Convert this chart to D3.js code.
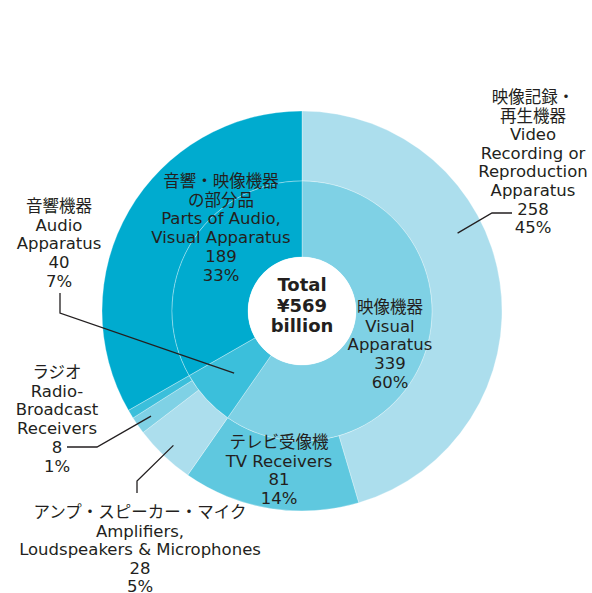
<!DOCTYPE html>
<html><head><meta charset="utf-8">
<script src="https://cdn.jsdelivr.net/npm/d3@7"></script>
<style>
body{margin:0;background:#fff;}
svg text{font-family:"DejaVu Sans","Noto Sans CJK JP",sans-serif;fill:#231f20;}
</style></head>
<body><svg id="c" width="592" height="593"></svg>
<script>
// Inner ring (major categories), billions of yen
const innerNames = ["映像機器","音響機器","音響・映像機器の部分品"];
const innerValues = [339, 40, 189];
const innerColors = ["#7fd1e5", "#3bbfdb", "#00abcf"];
// Outer ring (sub categories)
const outerNames = ["映像記録・再生機器","テレビ受像機","アンプ・スピーカー・マイク","ラジオ","その他音響機器","音響・映像機器の部分品"];
const outerValues = [258, 81, 28, 8, 4, 189];
const outerColors = ["#acdeed", "#5fc8df", "#acdeed", "#7fd1e5", "#3bbfdb", "#00abcf"];
const totalLines = ["Total", "¥569", "billion"];

const svg = d3.select("#c");
const cx = 302, cy = 311, r0 = 54, r1 = 130, r2 = 200;
const g = svg.append("g").attr("transform", `translate(${cx},${cy})`);
const pie = d3.pie().sort(null).value(d => d);
const innerArcs = pie(innerValues);
const outerArcs = pie(outerValues);
const arcIn = d3.arc().innerRadius(r0).outerRadius(r1);
const arcOut = d3.arc().innerRadius(r1).outerRadius(r2);

g.selectAll(".o").data(outerArcs).join("path")
  .attr("d", arcOut).attr("fill", (d,i) => outerColors[i])
  .attr("stroke", "#ffffff").attr("stroke-opacity", 0.5).attr("stroke-width", 0.6);
g.selectAll(".i").data(innerArcs).join("path")
  .attr("d", arcIn).attr("fill", (d,i) => innerColors[i])
  .attr("stroke", "#ffffff").attr("stroke-opacity", 0.5).attr("stroke-width", 0.6);
g.append("circle").attr("r", r0).attr("fill", "#fff");

function block(x, y, lines, opts = {}) {
  const t = g.append("text").attr("text-anchor", "middle")
    .attr("font-size", opts.size || 16.5).attr("font-weight", opts.weight || 400);
  lines.forEach((s, k) => t.append("tspan").attr("x", x).attr("y", y + k * (opts.lh || 18.7)).text(s));
}
// center total
block(0, 291 - cy, totalLines, {size: 18, weight: 700, lh: 20.5});

const pct = v => Math.round(v / d3.sum(innerValues) * 100) + "%";
// labels (positions relative to center)
block(390 - cx, 313 - cy, ["映像機器", "Visual", "Apparatus", innerValues[0], pct(innerValues[0])]);
block(221 - cx, 187 - cy, ["音響・映像機器", "の部分品", "Parts of Audio,", "Visual Apparatus", innerValues[2], pct(innerValues[2])]);
block(279 - cx, 448 - cy, ["テレビ受像機", "TV Receivers", outerValues[1], pct(outerValues[1])]);
block(533 - cx, 103 - cy, ["映像記録・", "再生機器", "Video", "Recording or", "Reproduction", "Apparatus", outerValues[0], pct(outerValues[0])], {lh: 18.6});
block(59 - cx, 212 - cy, ["音響機器", "Audio", "Apparatus", innerValues[1], pct(innerValues[1])]);
block(57 - cx, 378 - cy, ["ラジオ", "Radio-", "Broadcast", "Receivers", outerValues[3], pct(outerValues[3])]);
block(140 - cx, 518 - cy, ["アンプ・スピーカー・マイク", "Amplifiers,", "Loudspeakers & Microphones", outerValues[2], pct(outerValues[2])], {lh: 18.5});

// leader lines
const polar = (ang, r) => [Math.sin(ang) * r, -Math.cos(ang) * r];
const mid = d => (d.startAngle + d.endAngle) / 2;
const line = d3.line();
const lead = pts => g.append("path").attr("d", line(pts)).attr("fill", "none")
  .attr("stroke", "#231f20").attr("stroke-width", 1.3);
// video recording
const vs = polar(63.4 * Math.PI / 180, 174);
lead([vs, [492 - cx, 213 - cy], [512 - cx, 213 - cy]]);
// audio apparatus
lead([[60 - cx, 293 - cy], [60 - cx, 313 - cy], arcIn.centroid(innerArcs[1])]);
// radio
lead([[67 - cx, 447 - cy], [97 - cx, 447 - cy], polar(mid(outerArcs[3]), 184)]);
// amplifiers
lead([[137 - cx, 493 - cy], [137 - cx, 481 - cy], polar(mid(outerArcs[2]), 186)]);
</script></body></html>
